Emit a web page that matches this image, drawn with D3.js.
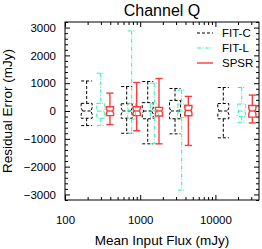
<!DOCTYPE html>
<html lang="en">
<head>
    <meta charset="UTF-8">
    <title>Channel Q</title>
    <script src="https://d3js.org/d3.v7.min.js"></script>
    <style>
        body { margin: 0; background: #fff; }
        text { font-family: "Liberation Sans", Arial, sans-serif; }
    </style>
</head>
<body>
    <svg id="chart" width="262" height="249"></svg>
<script>
// series names and styles
const seriesNames = ['FIT-C', 'FIT-L', 'SPSR'];
const seriesColors = ['#000000', '#2ef0b4', '#ff3a3a'];

// each row: [flux, min, q1, median, q3, max]
const fitC = [
    [194, -525, -260, 0, 275, 1080],
    [661, -800, -260, 0, 260, 880],
    [1259, -1180, -280, 0, 300, 1060],
    [2904, -821, -280, 0, 380, 810],
    [12740, -964, -280, 0, 270, 845]
];
const fitL = [
    [299, -525, -260, 0, 275, 1357],
    [771, -800, -290, 0, 280, 2880],
    [1540, -1180, -240, 0, 260, 1000],
    [3565, -2846, -240, 0, 250, 750],
    [22400, -405, -200, 0, 250, 845]
];
const spsr = [
    [396, -488, -167, 0, 155, 643],
    [898, -710, -167, 0, 155, 1024],
    [1778, -1180, -180, 0, 130, 1167],
    [4365, -1238, -170, 20, 200, 524],
    [31000, -430, -220, 0, 200, 571]
];

const yMajor = [-3000, -2000, -1000, 0, 1000, 2000, 3000];
const xMajor = [100, 1000, 10000];

const margin = { top: 22, right: 3, bottom: 49, left: 65 };
const width = 262 - margin.left - margin.right;
const height = 249 - margin.top - margin.bottom;

const x = d3.scaleLog().domain([100, 38000]).range([0, width]);
const y = d3.scaleLinear().domain([-3200, 3200]).range([height, 0]);

const svg = d3.select('#chart');
const g = svg.append('g').attr('transform', `translate(${margin.left},${margin.top})`);

// minor ticks
const yMinor = d3.range(-3200, 3201, 200).filter(v => v % 1000 !== 0);
const xMinor = [];
[100, 1000, 10000].forEach(d => {
    for (let k = 2; k <= 9; k++) if (d * k <= 38000) xMinor.push(d * k);
});

function styleAxis(sel) {
    sel.select('.domain').remove();
    sel.selectAll('line').attr('stroke', '#000').attr('stroke-width', 1);
    sel.selectAll('text').attr('font-size', 11.5).attr('fill', '#000');
}

g.append('g').call(d3.axisLeft(y).tickValues(yMajor).tickSize(-5).tickPadding(9).tickFormat(d3.format('d'))).call(styleAxis);
g.append('g').call(d3.axisLeft(y).tickValues(yMinor).tickSize(-3).tickFormat('')).call(styleAxis);
g.append('g').attr('transform', `translate(${width},0)`)
    .call(d3.axisRight(y).tickValues(yMajor).tickSize(-5).tickFormat('')).call(styleAxis);
g.append('g').attr('transform', `translate(${width},0)`)
    .call(d3.axisRight(y).tickValues(yMinor).tickSize(-3).tickFormat('')).call(styleAxis);

g.append('g').attr('transform', `translate(0,${height})`)
    .call(d3.axisBottom(x).tickValues(xMajor).tickSize(-5).tickPadding(16).tickFormat(d3.format('d'))).call(styleAxis);
g.append('g').attr('transform', `translate(0,${height})`)
    .call(d3.axisBottom(x).tickValues(xMinor).tickSize(-3).tickFormat('')).call(styleAxis);
g.append('g').call(d3.axisTop(x).tickValues(xMajor).tickSize(-5).tickFormat('')).call(styleAxis);
g.append('g').call(d3.axisTop(x).tickValues(xMinor).tickSize(-3).tickFormat('')).call(styleAxis);

g.append('rect')
    .attr('width', width).attr('height', height)
    .attr('fill', 'none').attr('stroke', '#000').attr('stroke-width', 1);

// box plots
const allSeries = [fitC, fitL, spsr];
const halfW = [5.5, 4, 3.6];
const dashes = ['3,2', '4,1.5,1,1.5', null];
const strokeW = [1, 1, 1.4];

allSeries.forEach((rows, i) => {
    const sg = g.append('g')
        .attr('fill', 'none')
        .attr('stroke', seriesColors[i])
        .attr('stroke-width', strokeW[i])
        .attr('stroke-dasharray', dashes[i]);
    const w = halfW[i];
    rows.forEach(r => {
        const cx = x(r[0]);
        const [lo, q1, med, q3, hi] = r.slice(1).map(y);
        const n = Math.min((q1 - q3) / 4, 3);
        const nw = w * 0.75;
        // whiskers
        sg.append('line').attr('x1', cx).attr('x2', cx).attr('y1', hi).attr('y2', q3);
        sg.append('line').attr('x1', cx).attr('x2', cx).attr('y1', q1).attr('y2', lo);
        sg.append('line').attr('x1', cx - w).attr('x2', cx + w).attr('y1', hi).attr('y2', hi);
        sg.append('line').attr('x1', cx - w).attr('x2', cx + w).attr('y1', lo).attr('y2', lo);
        // notched box
        const pts = [
            [cx - w, q3], [cx + w, q3], [cx + w, med - n], [cx + nw, med],
            [cx + w, med + n], [cx + w, q1], [cx - w, q1], [cx - w, med + n],
            [cx - nw, med], [cx - w, med - n]
        ];
        sg.append('path').attr('d', d3.line()(pts) + 'Z');
        sg.append('line').attr('x1', cx - nw).attr('x2', cx + nw).attr('y1', med).attr('y2', med);
    });
});

// legend
const legend = g.append('g').attr('transform', 'translate(132,0)');
seriesNames.forEach((name, i) => {
    const ly = 11 + i * 15;
    legend.append('line')
        .attr('x1', 0).attr('x2', 16)
        .attr('y1', ly).attr('y2', ly)
        .attr('stroke', seriesColors[i])
        .attr('stroke-width', strokeW[i])
        .attr('stroke-dasharray', dashes[i]);
    legend.append('text')
        .attr('x', 25).attr('y', ly + 4)
        .attr('font-size', 11.5)
        .text(name);
});

// titles
svg.append('text')
    .attr('x', margin.left + width / 2).attr('y', 16)
    .attr('text-anchor', 'middle').attr('font-size', 16)
    .text('Channel Q');
svg.append('text')
    .attr('x', margin.left + width / 2).attr('y', 245)
    .attr('text-anchor', 'middle').attr('font-size', 13.5)
    .text('Mean Input Flux (mJy)');
svg.append('text')
    .attr('transform', `translate(12,${margin.top + height / 2}) rotate(-90)`)
    .attr('text-anchor', 'middle').attr('font-size', 13.5)
    .text('Residual Error (mJy)');
</script>
</body>
</html>
